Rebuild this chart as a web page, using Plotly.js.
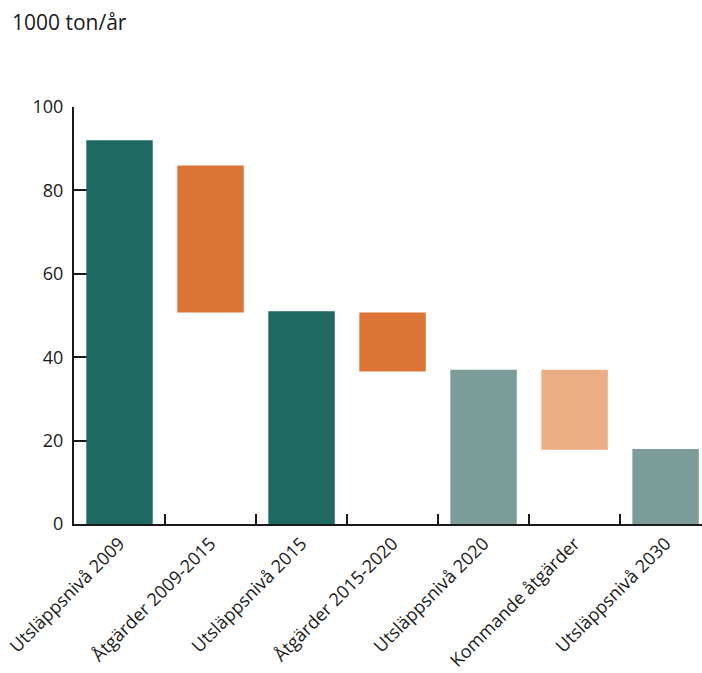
<!DOCTYPE html>
<html>
<head>
<meta charset="utf-8">
<script src="https://cdn.plot.ly/plotly-3.0.1.min.js"></script>
<style>html,body{margin:0;padding:0;background:#fff;}#chart{width:702px;height:673px;}</style>
</head>
<body>
<div id="chart"></div>
<script>
const categories = ["Utsläppsnivå 2009","Åtgärder 2009-2015","Utsläppsnivå 2015","Åtgärder 2015-2020","Utsläppsnivå 2020","Kommande åtgärder","Utsläppsnivå 2030"];
const barBottoms = [0, 50.7, 0, 36.6, 0, 17.8, 0];
const barTops = [92, 86, 51, 50.7, 37, 37, 18];
const barColors = ["#1e6a63","#dc7535","#1e6a63","#dc7535","#7b9c99","#ebad84","#7b9c99"];
const yTicks = [0, 20, 40, 60, 80, 100];
const unitLabel = "1000 ton/år";

const trace = {
  type: "bar",
  x: categories,
  y: barTops.map((t, i) => t - barBottoms[i]),
  base: barBottoms,
  marker: {color: barColors, line: {width: 0}},
  width: 0.73,
  hoverinfo: "skip"
};

const font = "Open Sans, Liberation Sans, Arial, sans-serif";
const layout = {
  width: 702, height: 673,
  margin: {l: 74, r: 0, t: 107, b: 148.5},
  paper_bgcolor: "#fff", plot_bgcolor: "#fff",
  showlegend: false,
  font: {family: font, color: "#1a1a1a", size: 18},
  title: {text: unitLabel, font: {family: font, size: 21, color: "#1a1a1a"},
          xref: "container", yref: "container", x: 12/702, xanchor: "left",
          y: 1 - 23/673, yanchor: "middle"},
  xaxis: {
    type: "category", range: [-0.5, 6.4],
    showline: true, linecolor: "#1a1a1a", linewidth: 2,
    ticks: "inside", tickson: "boundaries", ticklen: 10, tickwidth: 2, tickcolor: "#1a1a1a",
    tickangle: -45, tickfont: {size: 18, family: font, color: "#1a1a1a"},
    showgrid: false, zeroline: false, layer: "below traces", fixedrange: true
  },
  yaxis: {
    range: [0, 100], tickvals: yTicks, ticktext: yTicks.map(String),
    showline: true, linecolor: "#1a1a1a", linewidth: 2,
    ticks: "inside", ticklen: 16, tickwidth: 2, tickcolor: "#1a1a1a",
    tickfont: {size: 18, family: font, color: "#1a1a1a"}, ticklabelstandoff: 5,
    showgrid: false, zeroline: false, layer: "below traces", fixedrange: true
  }
};

Plotly.newPlot("chart", [trace], layout, {displayModeBar: false, staticPlot: true});
</script>
</body>
</html>
